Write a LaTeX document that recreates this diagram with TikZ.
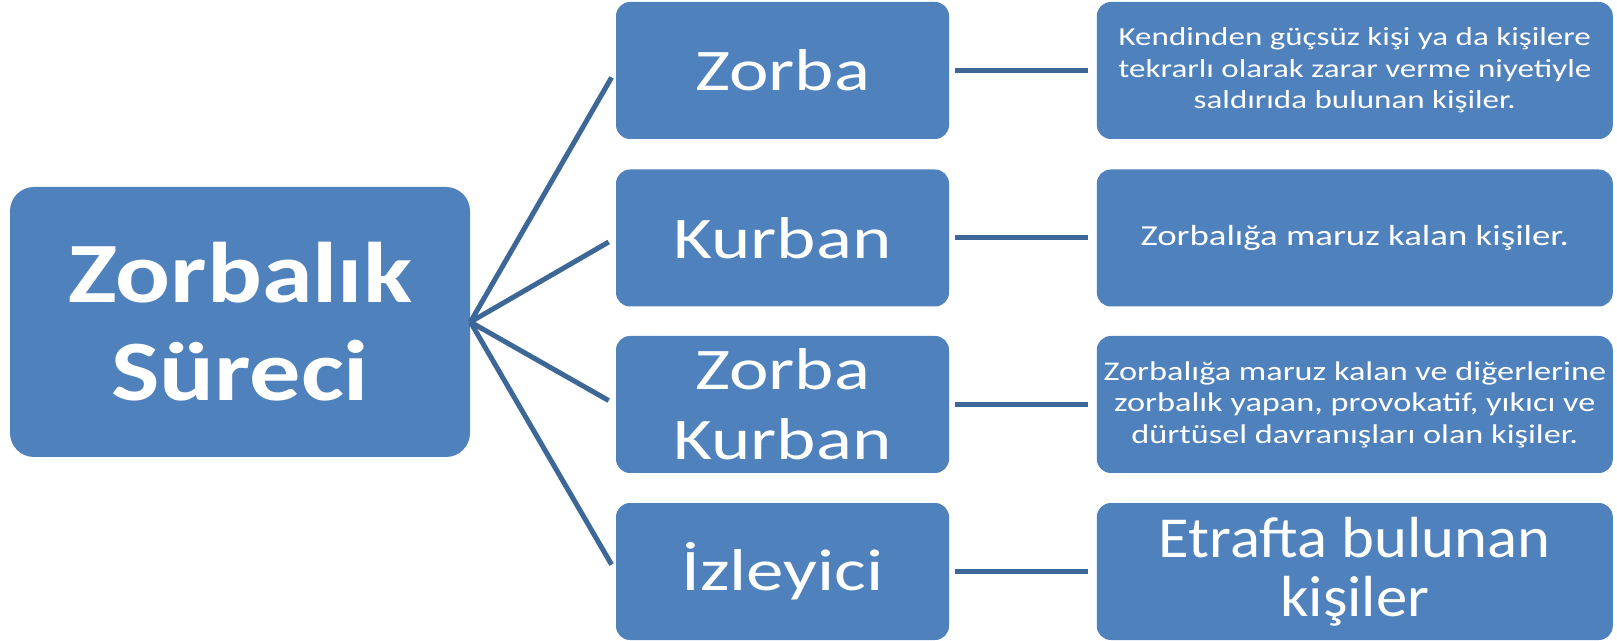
\documentclass[tikz,border=0pt]{standalone}
\usepackage{fontspec}
\setmainfont{Carlito}[FakeStretch=1.27]
\newfontfamily\rootfont{Carlito}[FakeStretch=1.19]
\newfontfamily\narrowfont{Carlito}[FakeStretch=1.08]
\usetikzlibrary{positioning}
\definecolor{boxblue}{HTML}{4F81BD}
\definecolor{lineblue}{HTML}{3C6796}

\tikzset{
  box/.style={fill=boxblue, text=white, rounded corners=7pt, align=center,
    inner sep=0pt, minimum height=68.5pt},
  rootbox/.style={box, rounded corners=12pt, minimum width=230pt, minimum height=135pt,
    font=\rootfont\fontsize{43}{49}\selectfont\bfseries},
  rolebox/.style={box, minimum width=166.5pt, font=\fontsize{29.5}{35}\selectfont},
  descbox/.style={box, minimum width=258pt, font=\fontsize{13}{15.7}\selectfont},
  link/.style={draw=lineblue, line width=2.5pt}
}

\begin{document}
\begin{tikzpicture}[x=0.5pt, y=-0.5pt]
  \useasboundingbox (0,0) rectangle (1617,641);
  % left: the process
  \node[rootbox] (surec) at (240,322) {Zorbalık\\Süreci};
  % middle: the roles
  \node[rolebox] (zorba) at (782.5,70.5) {Zorba};
  \node[rolebox] (kurban) at (782.5,238) {Kurban};
  \node[rolebox] (zorbakurban) at (782.5,404.5) {Zorba\\Kurban};
  \node[rolebox] (izleyici) at (782.5,571.5) {İzleyici};
  % right: what each role means
  \node[descbox, right=73.5pt of zorba] (zorbadesc) {Kendinden güçsüz kişi ya da kişilere\\tekrarlı olarak zarar verme niyetiyle\\saldırıda bulunan kişiler.};
  \node[descbox, right=73.5pt of kurban, font=\fontsize{14.5}{16}\selectfont] (kurbandesc) {Zorbalığa maruz kalan kişiler.};
  \node[descbox, right=73.5pt of zorbakurban, font=\fontsize{13.5}{15.7}\selectfont] (zorbakurbandesc) {Zorbalığa maruz kalan ve diğerlerine\\zorbalık yapan, provokatif, yıkıcı ve\\dürtüsel davranışları olan kişiler.};
  \node[descbox, right=73.5pt of izleyici, font=\narrowfont\fontsize{29}{29.5}\selectfont] (izleyicidesc) {Etrafta bulunan\\kişiler};

  \foreach \r in {zorba, kurban, zorbakurban, izleyici} {
    \draw[link, shorten >=4pt] (surec.east) -- (\r.west);
    \draw[link, shorten <=3pt, shorten >=4pt] (\r) -- (\r desc);
  }
\end{tikzpicture}
\end{document}
